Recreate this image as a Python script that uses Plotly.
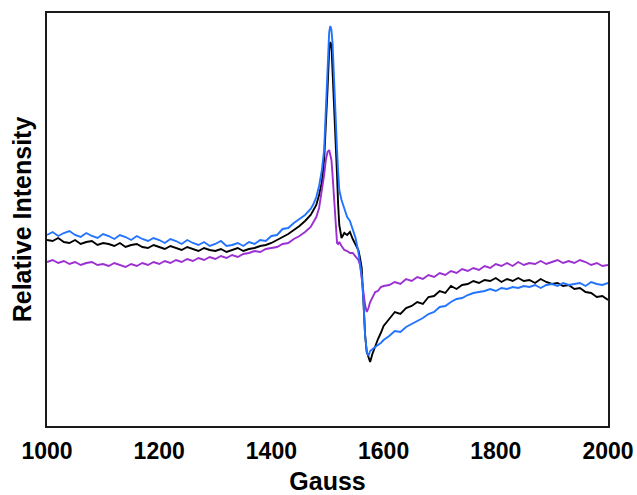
import plotly.graph_objects as go

# field positions (Gauss): coarse baseline, dense around the resonance, coarse tail
gauss_left = list(range(1000, 1480, 10))
gauss_peak = [1475, 1480, 1485, 1490, 1494, 1497, 1500, 1503, 1505, 1507, 1509, 1511,
              1513, 1515, 1517, 1519, 1521, 1525, 1530, 1535, 1540, 1545, 1550, 1555,
              1558, 1561, 1564, 1567, 1570, 1573, 1576, 1580, 1585, 1590, 1595, 1600]
gauss_right = list(range(1610, 2010, 10))
gauss = gauss_left + gauss_peak + gauss_right

# relative intensity (arbitrary units)
black_left = [193, 192, 195, 191, 190, 193, 189, 191, 192, 188, 190, 189, 187, 190, 186, 188,
              189, 186, 185, 188, 186, 184, 187, 185, 183, 186, 184, 182, 185, 183, 182, 184,
              181, 183, 185, 182, 184, 185, 187, 188, 190, 193, 196, 199, 203, 207, 212, 218]
black_peak = [223, 228, 238, 251, 273, 303, 343, 383, 391, 388, 363, 343, 323, 298, 258, 228,
              208, 195, 200, 198, 201, 194, 188, 183, 175, 165, 133, 98, 81, 75, 71, 79,
              87, 94, 100, 107]
black_right = [114, 121, 119, 125, 127, 131, 129, 136, 137, 142, 140, 147, 144, 148, 149, 152,
               150, 153, 152, 155, 151, 154, 152, 155, 152, 153, 150, 154, 151, 149, 150, 147,
               148, 144, 145, 141, 140, 136, 137, 133]

blue_left = [198, 201, 197, 200, 202, 198, 196, 200, 197, 195, 199, 197, 194, 198, 196, 193,
             197, 194, 192, 195, 193, 190, 194, 192, 189, 193, 190, 188, 191, 187, 189, 192,
             187, 188, 190, 187, 191, 189, 193, 192, 197, 198, 204, 205, 210, 214, 218, 224]
blue_peak = [229, 236, 247, 263, 283, 323, 373, 401, 407, 403, 390, 358, 333, 308, 283, 261,
             243, 233, 224, 216, 212, 204, 195, 181, 171, 157, 133, 98, 81, 77, 82, 84,
             86, 88, 90, 93]
blue_right = [97, 102, 101, 106, 109, 112, 115, 119, 121, 126, 127, 131, 134, 135, 138, 140,
              141, 142, 144, 142, 145, 144, 146, 145, 147, 146, 148, 145, 148, 149, 147, 150,
              148, 149, 150, 147, 151, 149, 148, 150]

purple_left = [171, 173, 170, 172, 169, 171, 168, 170, 171, 168, 169, 167, 170, 168, 166, 169,
               167, 170, 168, 171, 169, 172, 170, 173, 171, 174, 172, 175, 173, 176, 174, 177,
               175, 178, 176, 179, 180, 182, 181, 184, 185, 186, 189, 190, 194, 197, 201, 206]
purple_peak = [211, 216, 225, 241, 258, 273, 281, 283, 278, 273, 258, 238, 218, 198, 190, 189,
               191, 187, 183, 182, 180, 180, 177, 173, 168, 153, 140, 128, 121, 125, 131, 135,
               141, 142, 146, 147]
purple_right = [148, 151, 149, 154, 152, 156, 154, 158, 156, 160, 158, 162, 160, 164, 162, 165,
                163, 167, 165, 169, 167, 170, 167, 171, 168, 170, 169, 172, 169, 171, 173, 170,
                172, 170, 173, 171, 168, 170, 167, 168]

series = [
    ('black', black_left + black_peak + black_right, '#000000'),
    ('purple', purple_left + purple_peak + purple_right, '#9B2FD2'),
    ('blue', blue_left + blue_peak + blue_right, '#2274FF'),
]

fig = go.Figure()
for name, vals, col in series:
    fig.add_trace(go.Scatter(x=gauss, y=vals, mode='lines', name=name,
                             line=dict(color=col, width=1.9), showlegend=False))

font_main = 'Liberation Sans, Arial, sans-serif'
fig.update_layout(
    width=637, height=495,
    margin=dict(l=47, r=29, t=13, b=69),
    paper_bgcolor='white', plot_bgcolor='white',
    font=dict(family=font_main, color='black'),
)
fig.update_xaxes(
    range=[1000, 2000], tickvals=[1000, 1200, 1400, 1600, 1800, 2000],
    ticks='', ticklabelstandoff=3, tickfont=dict(size=23, weight='bold'),
    showgrid=False, zeroline=False, automargin=False,
    showline=True, linecolor='#1a1a1a', linewidth=2, mirror=True,
    title=dict(text='Gauss', font=dict(size=25, weight='bold'), standoff=19),
)
fig.update_yaxes(
    range=[7, 420], showticklabels=False, ticks='',
    showgrid=False, zeroline=False, automargin=False,
    showline=True, linecolor='#1a1a1a', linewidth=2, mirror=True,
    title=dict(text='Relative Intensity', font=dict(size=25, weight='bold'), standoff=6),
)

# the page body has a default 8px margin; drop it so the figure fills the window
fig.write_html("out.html", config={'displayModeBar': False},
               post_script="document.body.style.margin='0';")
